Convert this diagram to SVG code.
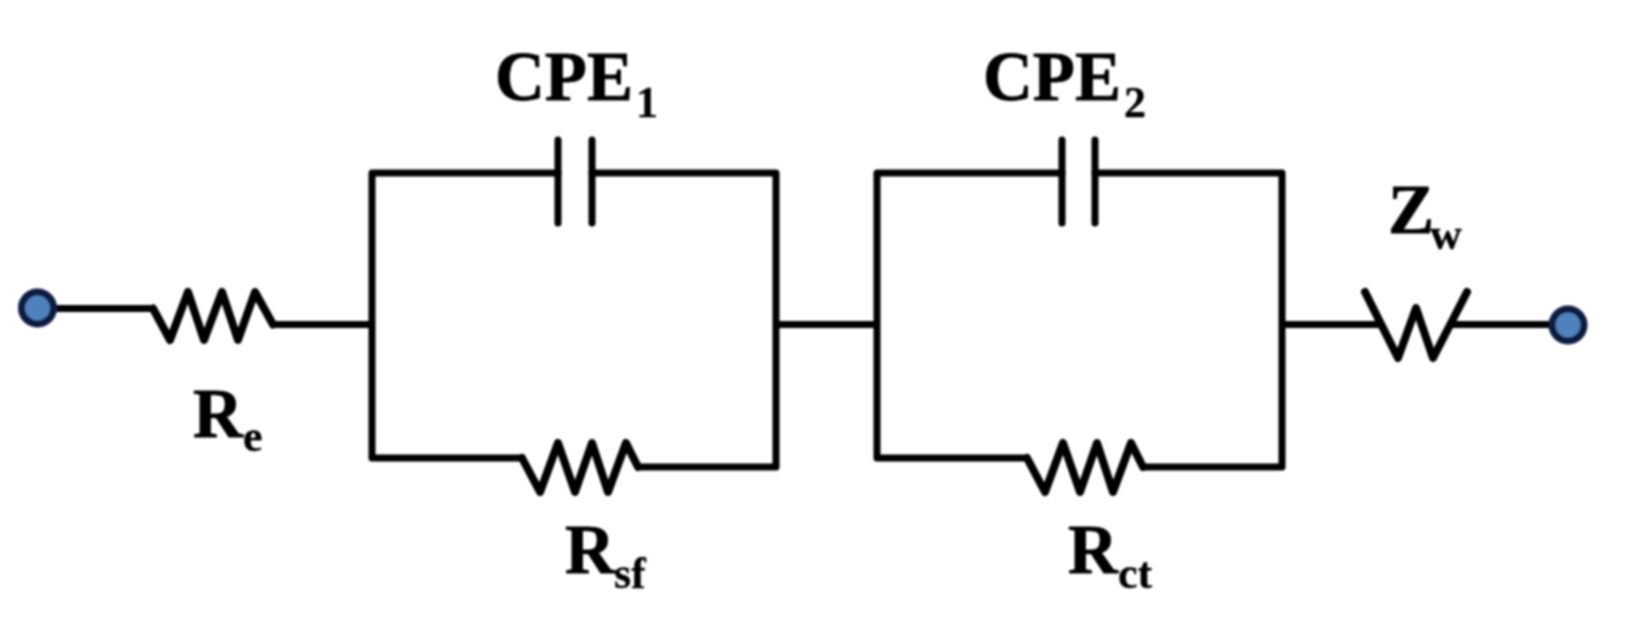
<svg xmlns="http://www.w3.org/2000/svg" width="1626" height="630" viewBox="0 0 1626 630">
<style>
.w{fill:none;stroke:#000;stroke-width:7;stroke-linejoin:round;stroke-linecap:round}
.r{stroke-width:8}
.t{stroke-width:7}
.n{fill:#4f81bd;stroke:#0b1c3f;stroke-width:7}
.l{font-family:"Liberation Serif","Times New Roman",serif;font-weight:700;font-size:69px;fill:#000;stroke:#000;stroke-width:0.8}
.s{font-size:44px;stroke-width:0.3}
</style>
<defs><filter id="soft" x="0" y="0" width="100%" height="100%" filterUnits="userSpaceOnUse"><feGaussianBlur stdDeviation="0.8"/></filter></defs>
<rect width="1626" height="630" fill="#fff"/>
<g filter="url(#soft)">
<g id="connectors">
<path class="w" d="M56 308.500H153M273 324.500H372M372 173V458M372 173H558M592 173H776V467M372 458H522M638 467H776M776 324.500H877M877 173V458M877 173H1062M1095 173H1282V467M877 458H1027M1143 467H1282M1282 324.500H1378M1452 324.500H1550"/>
</g>
<g id="terminal-in"><circle class="n" cx="37.500" cy="308" r="16"/></g>
<g id="terminal-out"><circle class="n" cx="1568" cy="325" r="16"/></g>
<g id="Re">
<path class="w r" d="M153 308.500L170 340L188 292L204 340L222 292L238 340L255 292L273 324.500"/>
<text class="l" x="193" y="437">R<tspan class="s" x="243" y="451">e</tspan></text>
</g>
<g id="CPE1">
<path class="w t" d="M558 140V223M592 140V223"/>
<text class="l" x="495" y="100">CPE<tspan class="s" x="636" y="117">1</tspan></text>
</g>
<g id="Rsf">
<path class="w r" d="M522 458L540 492L558 443L575 492L592 443L608 492L626 443L638 467"/>
<text class="l" x="565" y="573">R<tspan class="s" x="614" y="588">sf</tspan></text>
</g>
<g id="CPE2">
<path class="w t" d="M1062 140V223M1095 140V223"/>
<text class="l" x="983" y="100">CPE<tspan class="s" x="1124" y="117">2</tspan></text>
</g>
<g id="Rct">
<path class="w r" d="M1027 458L1045 492L1063 443L1080 492L1097 443L1113 492L1131 443L1143 467"/>
<text class="l" x="1068" y="573">R<tspan class="s" x="1118" y="588">ct</tspan></text>
</g>
<g id="Zw">
<path class="w r" d="M1365 292L1398 358L1416 308L1433 358L1467 292"/>
<text class="l" x="1388" y="233">Z<tspan class="s" x="1430" y="249">w</tspan></text>
</g>
</g>
</svg>
